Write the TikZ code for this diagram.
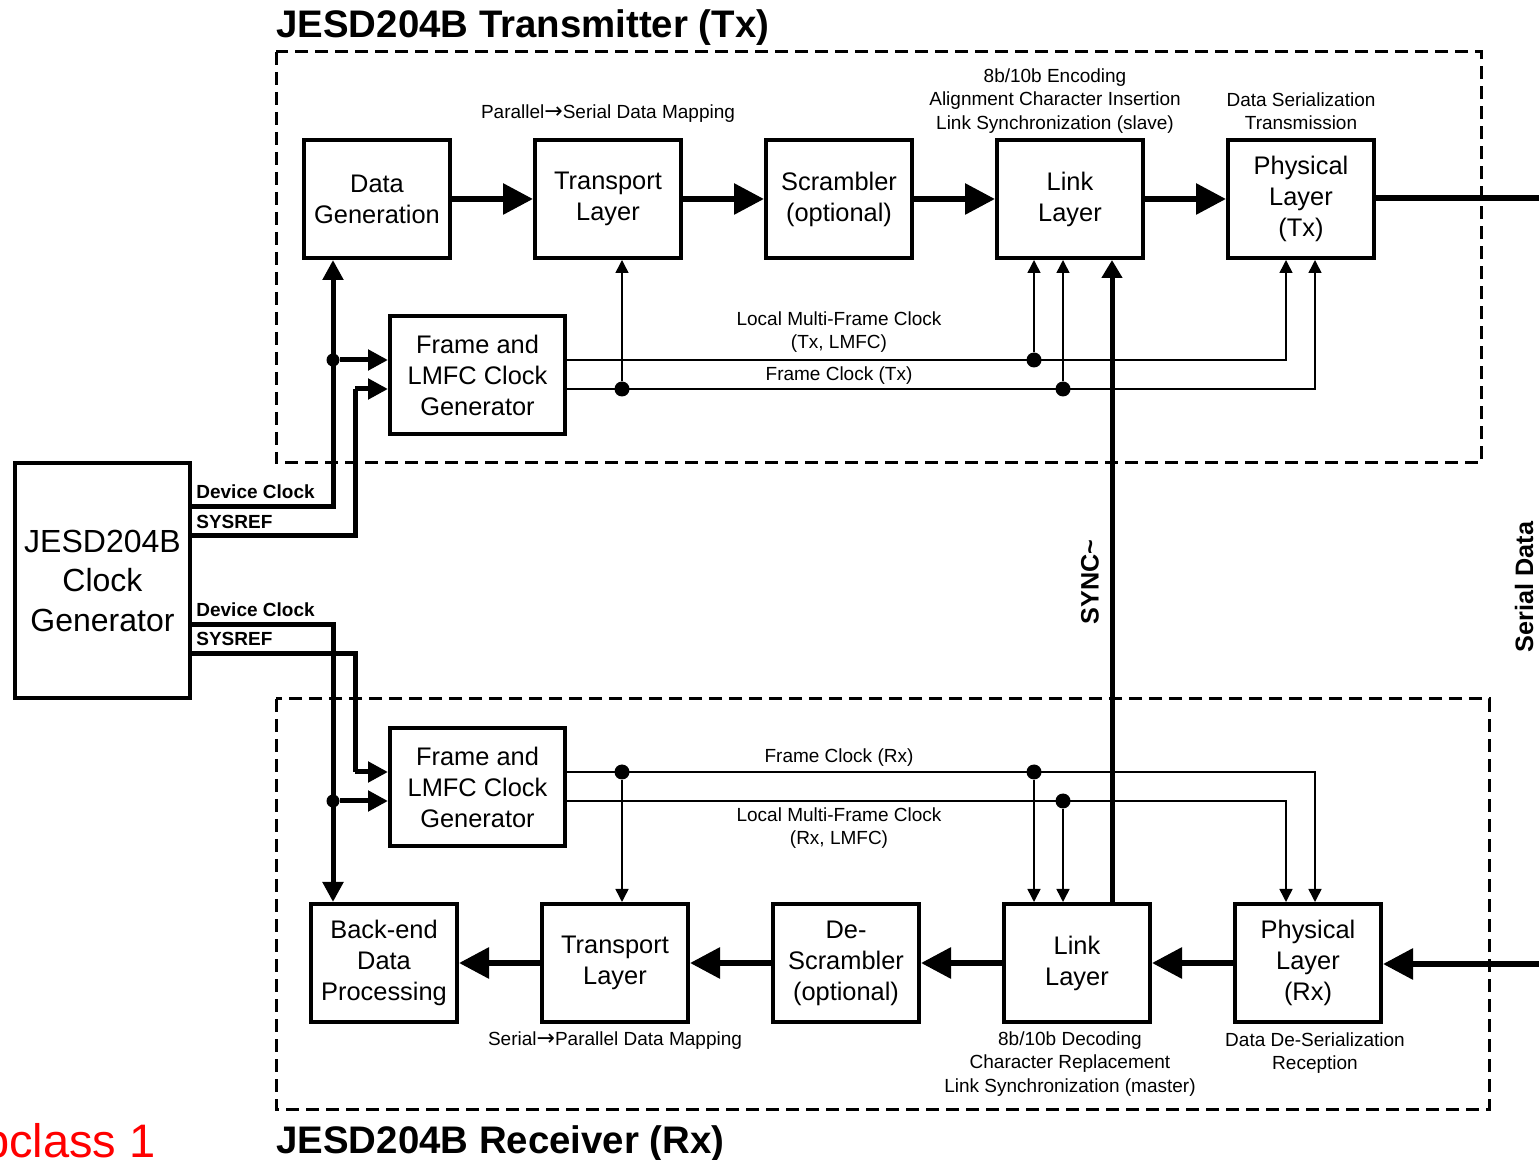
\documentclass[tikz,border=0pt]{standalone}
\usepackage{fontspec}
\setmainfont{Liberation Sans}
\newfontfamily\dv{DejaVu Sans}
\usetikzlibrary{arrows.meta}
\begin{document}
\begin{tikzpicture}[x=0.5pt,y=-0.5pt,
  blk/.style={draw,line width=2pt,minimum width=73pt,minimum height=59pt,inner sep=0pt,align=center,font=\fontsize{12.7}{15.5}\selectfont},
  flow/.style={line width=3pt,-{Triangle[length=15pt,width=15pt]}},
  clk/.style={line width=2.5pt},
  clkarr/.style={line width=2.5pt,-{Triangle[length=10pt,width=10pt]}},
  thinl/.style={line width=0.75pt},
  thinarr/.style={line width=0.75pt,-{Triangle[length=6.5pt,width=6.5pt]}},
  syncarr/.style={line width=2.5pt,-{Triangle[length=9pt,width=10pt]}},
  dotn/.style={circle,fill,inner sep=0pt,minimum size=7.5pt},
  bigdot/.style={circle,fill,inner sep=0pt,minimum size=6.5pt},
  frame/.style={draw,line width=1.5pt,dash pattern=on 6.5pt off 3.5pt},
  small/.style={align=center,inner sep=0pt,font=\fontsize{9.5}{11.75}\selectfont},
  sigl/.style={anchor=west,inner sep=0pt,font=\fontsize{9.5}{11.5}\selectfont\bfseries},
  title/.style={anchor=base west,inner sep=0pt,font=\fontsize{19.2}{23}\selectfont\bfseries},
  vlabel/.style={rotate=90,inner sep=0pt,font=\fontsize{12.6}{15}\selectfont\bfseries}
]
\useasboundingbox (0,0) rectangle (1539,1160);

% dashed frames
\draw[frame] (276,52) rectangle (1481,463);
\draw[frame] (276,699) rectangle (1489,1109);

% titles
\node[title] (ttx) at (276,38) {JESD204B Transmitter (Tx)};
\node[title] (trx) at (276,1153) {JESD204B Receiver (Rx)};
\node[anchor=base east,inner sep=0pt,text=red,font=\fontsize{23.5}{28}\selectfont] (sub) at (156,1157) {Subclass 1};

% Tx blocks
\node[blk] (dg) at (377,199) {Data\\Generation};
\node[blk] (tt) at (608,199) {Transport\\Layer};
\node[blk] (sc) at (839,199) {Scrambler\\(optional)};
\node[blk] (tl) at (1070,199) {Link\\Layer};
\node[blk] (tp) at (1301,199) {Physical\\Layer\\(Tx)};
\node[blk,minimum width=87.5pt] (fgt) at (477.5,375) {Frame and\\LMFC Clock\\Generator};

% Rx blocks
\node[blk] (bp) at (384,963) {Back-end\\Data\\Processing};
\node[blk] (rt) at (615,963) {Transport\\Layer};
\node[blk] (ds) at (846,963) {De-\\Scrambler\\(optional)};
\node[blk] (rl) at (1077,963) {Link\\Layer};
\node[blk] (rp) at (1308,963) {Physical\\Layer\\(Rx)};
\node[blk,minimum width=87.5pt] (fgr) at (477.5,787) {Frame and\\LMFC Clock\\Generator};

% clock generator
\node[draw,line width=2pt,minimum width=87.5pt,minimum height=117.5pt,inner sep=0pt,align=center,font=\fontsize{16}{19.75}\selectfont] (cg) at (102.5,580.5) {JESD204B\\Clock\\Generator};

% helper coordinates
\coordinate (xdc) at (333,0);
\coordinate (xsr) at (355,0);
\coordinate (xA) at (1286,0);
\coordinate (xB) at (1315,0);
\coordinate (xS) at (1112,0);
\coordinate (yDT) at (0,507);
\coordinate (yST) at (0,536);
\coordinate (ySTi) at (0,389);
\coordinate (yDR) at (0,625);
\coordinate (ySR) at (0,654);
\coordinate (ySRi) at (0,772);
\coordinate (outT) at (1539,198);
\coordinate (inR) at (1539,964);

% Tx data flow
\draw[flow] (dg.east) -- (tt.west);
\draw[flow] (tt.east) -- (sc.west);
\draw[flow] (sc.east) -- (tl.west);
\draw[flow] (tl.east) -- (tp.west);
\draw[line width=3pt] (tp.east |- outT) -- (outT);

% Rx data flow
\draw[flow] (inR) -- (rp.east |- inR);
\draw[flow] (rp.west) -- (rl.east);
\draw[flow] (rl.west) -- (ds.east);
\draw[flow] (ds.west) -- (rt.east);
\draw[flow] (rt.west) -- (bp.east);

% Tx clocks
\node[bigdot] (jt1) at (333,360) {};
\draw[clkarr] (cg.east |- yDT) -| (dg.south -| xdc);
\draw[clkarr] (jt1) -- (fgt.west |- jt1);
\draw[clk] (cg.east |- yST) -| (xsr |- ySTi);
\draw[clkarr] (xsr |- ySTi) -- (fgt.west |- ySTi);

% Rx clocks
\node[bigdot] (jr1) at (333,801) {};
\draw[clkarr] (cg.east |- yDR) -| (bp.north -| xdc);
\draw[clkarr] (jr1) -- (fgr.west |- jr1);
\draw[clk] (cg.east |- ySR) -| (xsr |- ySRi);
\draw[clkarr] (xsr |- ySRi) -- (fgr.west |- ySRi);

% Tx thin clocks
\node[dotn] (jt2) at (1034,360) {};
\node[dotn] (jt3) at (1063,389) {};
\node[dotn] (jt4) at (622,389) {};
\draw[thinarr] (fgt.east |- jt2) -| (tp.south -| xA);
\draw[thinarr] (fgt.east |- jt3) -| (tp.south -| xB);
\draw[thinarr] (jt2) -- (tl.south -| jt2);
\draw[thinarr] (jt3) -- (tl.south -| jt3);
\draw[thinarr] (jt4) -- (tt.south -| jt4);

% Rx thin clocks
\node[dotn] (jr2) at (1034,772) {};
\node[dotn] (jr3) at (1063,801) {};
\node[dotn] (jr4) at (622,772) {};
\draw[thinarr] (fgr.east |- jr2) -| (rp.north -| xB);
\draw[thinarr] (fgr.east |- jr3) -| (rp.north -| xA);
\draw[thinarr] (jr2) -- (rl.north -| jr2);
\draw[thinarr] (jr3) -- (rl.north -| jr3);
\draw[thinarr] (jr4) -- (rt.north -| jr4);

% SYNC~
\draw[syncarr] (rl.north -| xS) -- (tl.south -| xS);
\node[vlabel] (synl) at (1090,582) {SYNC\textasciitilde};
\node[vlabel] (serl) at (1524,587) {Serial Data};

% signal labels
\node[sigl] (l1) at (196,492) {Device Clock};
\node[sigl] (l2) at (196,522) {SYSREF};
\node[sigl] (l3) at (196,610) {Device Clock};
\node[sigl] (l4) at (196,639) {SYSREF};

% small annotations
\node[small] (a1) at (608,114) {Parallel{\dv\fontsize{11}{11}\selectfont →}Serial Data Mapping};
\node[small] (a2) at (1055,101) {8b/10b Encoding\\Alignment Character Insertion\\Link Synchronization (slave)};
\node[small] (a3) at (1301,111) {Data Serialization\\Transmission};
\node[small] (a4) at (839,332) {Local Multi-Frame Clock\\(Tx, LMFC)};
\node[small] (a5) at (839,376) {Frame Clock (Tx)};
\node[small] (a6) at (839,758) {Frame Clock (Rx)};
\node[small] (a7) at (839,828) {Local Multi-Frame Clock\\(Rx, LMFC)};
\node[small] (a8) at (615,1041) {Serial{\dv\fontsize{11}{11}\selectfont →}Parallel Data Mapping};
\node[small] (a9) at (1070,1064) {8b/10b Decoding\\Character Replacement\\Link Synchronization (master)};
\node[small] (a10) at (1315,1053) {Data De-Serialization\\Reception};
\end{tikzpicture}
\end{document}
